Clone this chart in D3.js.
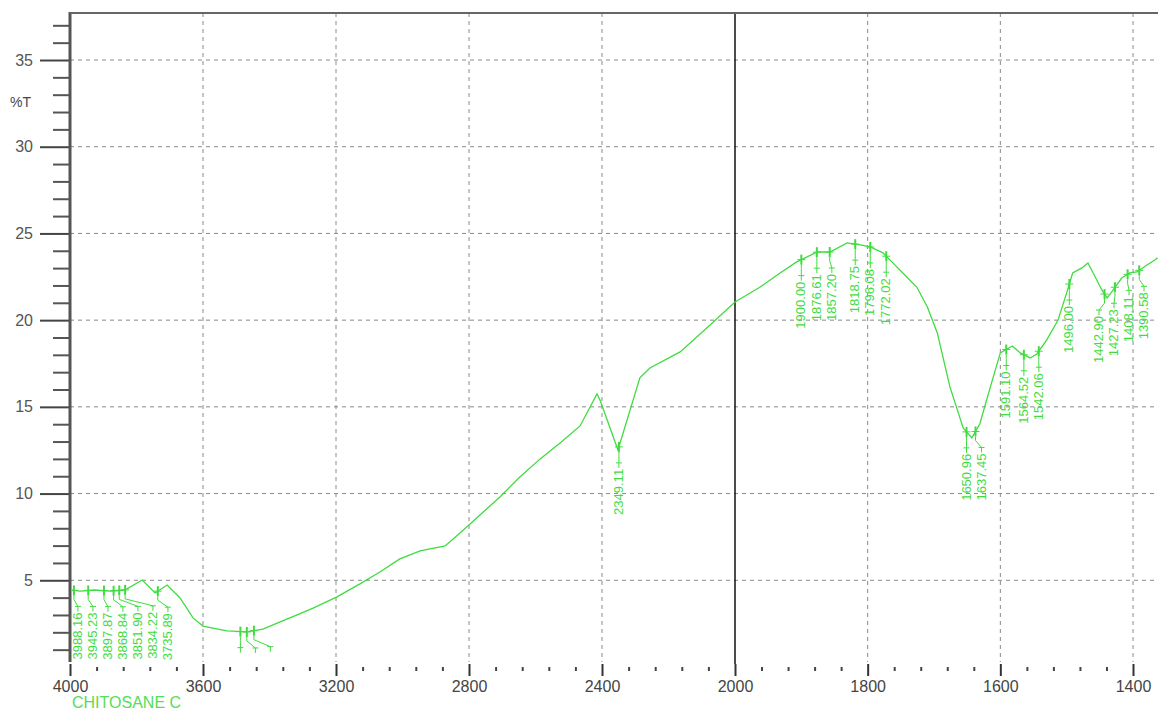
<!DOCTYPE html>
<html>
<head>
<meta charset="utf-8">
<script src="https://cdn.jsdelivr.net/npm/d3@7"></script>
<style>
  body { margin: 0; background: #fff; }
  svg { display: block; font-family: "Liberation Sans", Arial, sans-serif; }
</style>
</head>
<body>
<svg id="chart" width="1158" height="710"></svg>
<script>
// spectrum (wavenumber cm-1, %T)
wavenumber = [4000, 3970, 3925, 3880, 3835, 3783, 3744, 3708, 3669, 3630, 3600, 3528, 3468, 3420, 3368,
  3317, 3269, 3197, 3128, 3068, 3008, 2947, 2872, 2827, 2767, 2707, 2647, 2586, 2526, 2466, 2415, 2406,
  2352, 2286, 2256, 2165, 2075, 2000, 1962, 1932, 1907, 1876, 1857, 1831, 1811, 1796, 1777, 1762, 1747,
  1726, 1710, 1695, 1676, 1656, 1643, 1631, 1615, 1600, 1582, 1570, 1555, 1545, 1530, 1513, 1500, 1491,
  1477, 1468, 1460, 1447, 1439, 1432, 1427, 1417, 1405, 1394, 1379, 1367, 1363];
transmittance = [4.44, 4.38, 4.44, 4.38, 4.44, 5.02, 4.27, 4.73, 3.98, 2.83, 2.36, 2.08, 2.02, 2.19, 2.60,
  3.00, 3.40, 4.04, 4.79, 5.48, 6.23, 6.69, 6.98, 7.73, 8.77, 9.80, 10.96, 12.00, 12.92, 13.90, 15.74, 15.40,
  12.51, 16.67, 17.24, 18.17, 19.72, 21.05, 21.91, 22.72, 23.36, 23.93, 23.93, 24.45, 24.34, 24.22, 23.88, 23.30, 22.72,
  21.91, 20.76, 19.26, 16.15, 13.78, 13.21, 14.01, 16.15, 18.11, 18.51, 18.11, 17.82, 18.05, 18.86, 20.01, 21.57, 22.72,
  23.01, 23.30, 22.72, 21.74, 21.28, 21.63, 21.91, 22.43, 22.72, 22.78, 23.18, 23.47, 23.59];

// picked peaks
peakLabels = ["3988.16", "3945.23", "3897.87", "3868.84", "3851.90", "3834.22", "3735.89",
  "3487.52", "3468.20", "3446.91", "2349.11",
  "1900.00", "1876.61", "1857.20", "1818.75", "1796.08", "1772.02",
  "1650.96", "1637.45", "1591.10", "1564.52", "1542.06",
  "1496.00", "1442.90", "1427.23", "1408.11", "1390.58"];

xMajorTicks = [4000, 3600, 3200, 2800, 2400, 2000, 1800, 1600, 1400];
xGridTicks = [3600, 3200, 2800, 2400, 1800, 1600, 1400];
yMajorTicks = [5, 10, 15, 20, 25, 30, 35];
sampleName = "CHITOSANE C";

green = "#3fdc3f";
svg = d3.select("#chart");

plotLeft = 70; plotTop = 13; plotBottom = 662; plotRight = 1158;

// the spectrometer scale doubles below 2000 cm-1
x = d3.scaleLinear().domain([4000, 2000, 1400]).range([70, 735, 1133]);
y = d3.scaleLinear().domain([0, 35]).range([667, 60]);

// grid
grid = svg.append("g").attr("stroke", "#8a8a8a").attr("stroke-dasharray", "4,4");
grid.selectAll(".hg").data(yMajorTicks).enter().append("line")
  .attr("x1", plotLeft).attr("x2", plotRight)
  .attr("y1", d => y(d)).attr("y2", d => y(d));
grid.selectAll(".vg").data(xGridTicks).enter().append("line")
  .attr("x1", d => x(d)).attr("x2", d => x(d))
  .attr("y1", plotTop).attr("y2", plotBottom);

// solid line where the scale changes
svg.append("line")
  .attr("x1", x(2000)).attr("x2", x(2000)).attr("y1", plotTop).attr("y2", plotBottom + 2)
  .attr("stroke", "#111").attr("stroke-width", 1.5);

// y axis
yMinor = d3.range(1, 38).filter(d => d % 5 != 0);
svg.append("g").attr("transform", `translate(${plotLeft},0)`)
  .call(d3.axisLeft(y).tickValues(yMinor).tickSize(17).tickFormat(""))
  .call(g => g.select(".domain").remove())
  .selectAll("line").attr("stroke", "#555").attr("stroke-width", 2);
yAx = svg.append("g").attr("transform", `translate(${plotLeft},0)`)
  .call(d3.axisLeft(y).tickValues(yMajorTicks).tickSize(30).tickPadding(7))
  .call(g => g.select(".domain").remove());
yAx.selectAll("line").attr("stroke", "#444").attr("stroke-width", 2);
yAx.selectAll("text").attr("font-size", 16).attr("fill", "#555").attr("font-family", "Liberation Sans, Arial");

svg.append("line").attr("x1", plotLeft).attr("x2", plotLeft).attr("y1", plotTop - 1).attr("y2", plotBottom)
  .attr("stroke", "#555").attr("stroke-width", 3);
svg.append("line").attr("x1", plotLeft).attr("x2", plotRight).attr("y1", plotTop).attr("y2", plotTop)
  .attr("stroke", "#666").attr("stroke-width", 2);

svg.append("text").attr("x", 10).attr("y", 107).text("%T")
  .attr("font-size", 14).attr("fill", "#445");

// x axis
xMinor = d3.range(4000, 2000, -80).concat(d3.range(2000, 1360, -40))
  .filter(d => xMajorTicks.indexOf(d) < 0);
svg.append("g").attr("transform", `translate(0,667)`)
  .call(d3.axisBottom(x).tickValues(xMinor).tickSize(4).tickFormat(""))
  .call(g => g.select(".domain").remove())
  .selectAll("line").attr("stroke", "#444").attr("stroke-width", 2);
xAx = svg.append("g").attr("transform", `translate(0,664)`)
  .call(d3.axisBottom(x).tickValues(xMajorTicks).tickSize(12).tickPadding(5).tickFormat(d3.format("d")))
  .call(g => g.select(".domain").remove());
xAx.selectAll("line").attr("stroke", "#333").attr("stroke-width", 2);
xAx.selectAll("text").attr("font-size", 16).attr("fill", "#444").attr("font-family", "Liberation Sans, Arial");

svg.append("text").attr("x", 72).attr("y", 708).text(sampleName)
  .attr("font-size", 16).attr("fill", "#55dd55");

// clip for data
svg.append("clipPath").attr("id", "plot").append("rect")
  .attr("x", plotLeft + 2).attr("y", plotTop).attr("width", plotRight - plotLeft).attr("height", plotBottom - plotTop);
plot = svg.append("g").attr("clip-path", "url(#plot)");

line = d3.line().x((d, i) => x(wavenumber[i])).y(d => y(d));
plot.append("path").datum(transmittance)
  .attr("d", line).attr("fill", "none").attr("stroke", green).attr("stroke-width", 1.3);

// peak markers with spread labels
tAt = d3.scaleLinear().domain(wavenumber).range(transmittance);
peaks = peakLabels.map(s => {
  wn = +s;
  return { label: s, px: x(wn), py: y(tAt(wn)) };
});
// push labels apart so they do not overlap
peaks[0].lx = peaks[0].px + 4;
for (i = 1; i < peaks.length; i++) {
  p = peaks[i]; q = peaks[i - 1];
  p.lx = p.px;
  if (Math.abs(p.py - q.py) < 40 && p.lx - q.lx < 15) p.lx = q.lx + 15;
}
// keep the last labels inside the frame
for (i = peaks.length - 1; i >= 0; i--) {
  lim = i == peaks.length - 1 ? plotRight - 14 : peaks[i + 1].lx - 15;
  if (peaks[i].lx > lim) peaks[i].lx = lim;
}

pg = plot.append("g").attr("stroke", green).attr("fill", "none");
peaks.forEach(p => {
  pg.append("line").attr("x1", p.px).attr("x2", p.px).attr("y1", p.py - 5).attr("y2", p.py + 5).attr("stroke-width", 2);
  pg.append("line").attr("x1", p.px - 4).attr("x2", p.px + 4).attr("y1", p.py).attr("y2", p.py);
  pg.append("path").attr("d", `M${p.px},${p.py + 5}L${p.px},${p.py + 9}L${p.lx},${p.py + 16}L${p.lx},${p.py + 21}`);
  pg.append("line").attr("x1", p.lx - 3).attr("x2", p.lx + 3).attr("y1", p.py + 16).attr("y2", p.py + 16);
  // labels that run past the bottom of the frame are not printed
  if (p.py + 22 + 48 > plotBottom) return;
  plot.append("text")
    .attr("transform", `translate(${p.lx + 4},${p.py + 22}) rotate(-90)`)
    .attr("text-anchor", "end")
    .attr("font-size", 13)
    .attr("fill", green)
    .text(p.label);
});
</script>
</body>
</html>
